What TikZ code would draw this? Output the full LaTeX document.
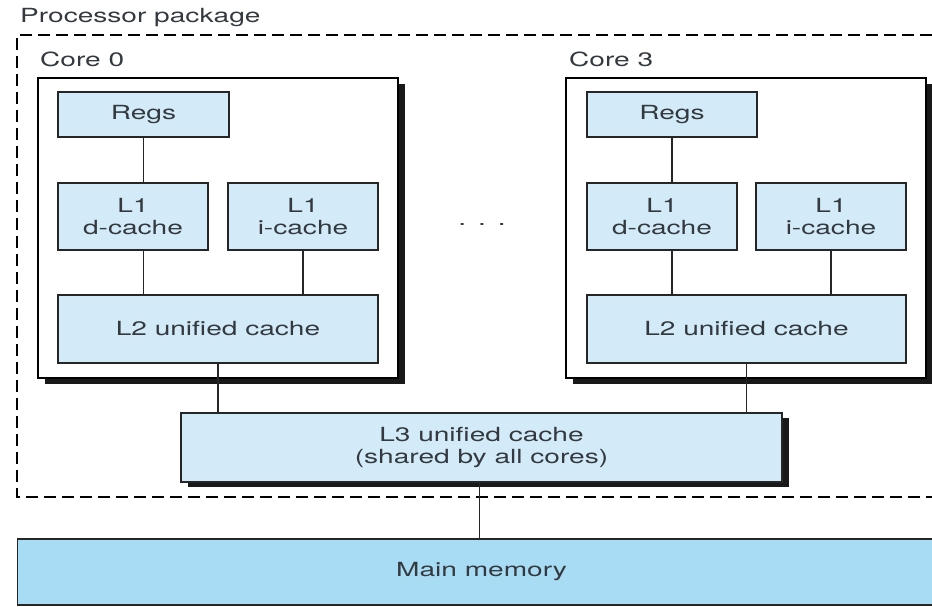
\documentclass[tikz,border=0pt]{standalone}
\usepackage{fontspec}
\setmainfont{TeX Gyre Heros}[FakeStretch=1.44]
\usetikzlibrary{calc, shadows}
\definecolor{cachefill}{HTML}{D3EBF8}
\definecolor{memfill}{HTML}{A8DCF5}
\definecolor{textgray}{HTML}{33393E}
\tikzset{
    cache-box/.style={
        draw=black!85, fill=cachefill, line width=1.4pt, inner sep=0pt, align=center, text=textgray
    },
    core-box/.style={
        draw=black, fill=white, line width=1.4pt, inner sep=0pt,
        drop shadow={shadow xshift=7pt, shadow yshift=-6pt, fill=black!90, opacity=1}
    },
    shadow-box/.style={
        cache-box, drop shadow={shadow xshift=7pt, shadow yshift=-5pt, fill=black!90, opacity=1}
    },
    memory-box/.style={
        draw=black!85, fill=memfill, line width=1.4pt, inner sep=0pt
    },
    wire/.style={
        draw=black!85, line width=1.4pt
    },
    title-text/.style={
        text=textgray, inner sep=0pt
    },
}

\begin{document}
\begin{tikzpicture}[x=1pt, y=-1pt, font=\fontsize{19.5}{21.5}\selectfont]

        \clip (0,0) rectangle (932,607);

        % PACKAGE
        \node[title-text, anchor=base west] (PKG) at (20,23) {Processor package};
        \draw[line width=1.8pt, dash pattern=on 12pt off 6pt] (950,35) -- (17,35) -- (17,497) -- (950,497);

        % CORE 0
        \node[core-box, minimum width=360pt, minimum height=300pt] (CORE0) at (218,228) {};
        \node[title-text, anchor=base west] (CORE0TXT) at (40,67) {Core 0};
        \node[cache-box, minimum width=171pt, minimum height=45pt] (REGS0) at (143.5,114.5) {Regs};
        \node[cache-box, minimum width=150pt, minimum height=67pt] (L1D0)  at (133,216.5)   {L1\\d-cache};
        \node[cache-box, minimum width=150pt, minimum height=67pt] (L1I0)  at (303,216.5)   {L1\\i-cache};
        \node[cache-box, minimum width=320pt, minimum height=68pt] (L2C0)  at (218,329)     {L2 unified cache};

        % CORE 3
        \node[core-box, minimum width=360pt, minimum height=300pt] (CORE3) at (746,228) {};
        \node[title-text, anchor=base west] (CORE3TXT) at (569,67) {Core 3};
        \node[cache-box, minimum width=170pt, minimum height=45pt] (REGS3) at (672,114.5) {Regs};
        \node[cache-box, minimum width=150pt, minimum height=67pt] (L1D3)  at (662,216.5) {L1\\d-cache};
        \node[cache-box, minimum width=150pt, minimum height=67pt] (L1I3)  at (831,216.5) {L1\\i-cache};
        \node[cache-box, minimum width=319pt, minimum height=68pt] (L2C3)  at (746.5,329) {L2 unified cache};

        % DOTS
        \node[title-text] (DOTS) at (482,224) {.\hspace{12pt}.\hspace{12pt}.};

        % L3, MEMORY
        \node[shadow-box, minimum width=601pt, minimum height=69pt] (L3) at (481.5,447.5) {L3 unified cache\\(shared by all cores)};
        \node[memory-box, minimum width=933pt, minimum height=66pt, anchor=west] (MEM) at (17,572) {};
        \node[title-text] (MEMTXT) at (L3.center |- MEM.center) {Main memory};

        % CORE 0 WIRES
        \draw[wire] (REGS0.south) -- (REGS0.south |- L1D0.north);
        \draw[wire] (REGS0.south |- L1D0.south) -- (REGS0.south |- L2C0.north);
        \draw[wire] (L1I0.south) -- (L1I0.south |- L2C0.north);
        \draw[wire] (L2C0.south) -- (L2C0.south |- L3.north);

        % CORE 3 WIRES
        \draw[wire] (REGS3.south) -- (REGS3.south |- L1D3.north);
        \draw[wire] (REGS3.south |- L1D3.south) -- (REGS3.south |- L2C3.north);
        \draw[wire] (L1I3.south) -- (L1I3.south |- L2C3.north);
        \draw[wire] (L2C3.south) -- (L2C3.south |- L3.north);

        % MEMORY WIRE
        \draw[wire] ($(L3.south)+(-2,0)$) -- ($(L3.south |- MEM.north)+(-2,0)$);

    \end{tikzpicture}
\end{document}
